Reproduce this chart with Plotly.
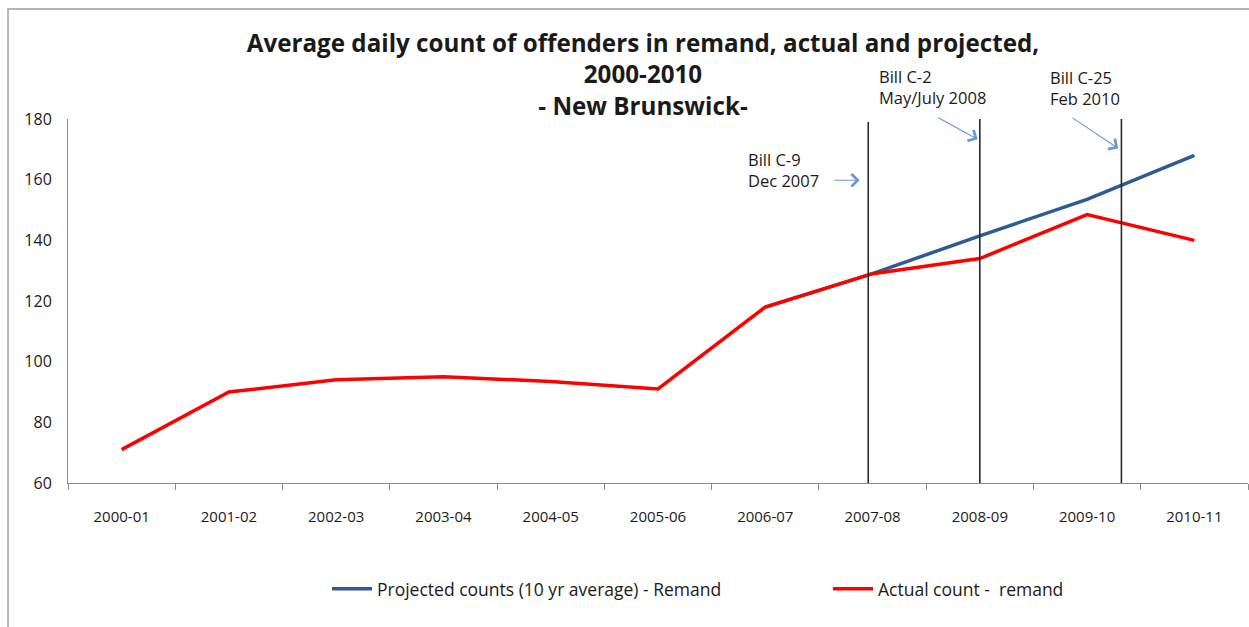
import plotly.graph_objects as go

categories = ["2000-01", "2001-02", "2002-03", "2003-04", "2004-05", "2005-06",
              "2006-07", "2007-08", "2008-09", "2009-10", "2010-11"]
actual = [71, 90, 94, 95, 93.5, 91, 118, 129, 134, 148.5, 140]
projected = [None, None, None, None, None, None, 118, 129, 141.5, 153.5, 168]
y_ticks = [60, 80, 100, 120, 140, 160, 180]

# bill markers: position on category axis (index units), top of line (y value)
bill_pos = [6.96, 8.0, 9.32]
bill_top = [179.0, 180.3, 180.3]
bill_text = ["Bill C-9<br>Dec 2007", "Bill C-2<br>May/July 2008", "Bill C-25<br>Feb 2010"]
bill_text_x = [5.82, 7.04, 8.635]
bill_text_y = [0.860, 1.089, 1.085]   # paper units
arrow_tail = [(6.63, 159.8), (7.60, 180.7), (8.85, 180.7)]
arrow_head = [(6.88, 159.8), (7.98, 173.3), (9.29, 170.3)]

FONT = "Open Sans"
TXT = "#1a1a1a"
AX = "#8c8c8c"

fig = go.Figure()
fig.add_trace(go.Scatter(x=categories, y=projected, mode="lines",
                         name="Projected counts (10 yr average) - Remand",
                         line=dict(color="#2E5C92", width=3.5), legend="legend"))
fig.add_trace(go.Scatter(x=categories, y=actual, mode="lines", name="Actual count -  remand",
                         line=dict(color="#FF0000", width=3.5), legend="legend2"))

for p, t in zip(bill_pos, bill_top):
    fig.add_shape(type="line", xref="x", yref="y", x0=p, x1=p, y0=60, y1=t,
                  line=dict(color="#2a2a2a", width=1.6))

annotations = []
for tx, ty, tt in zip(bill_text_x, bill_text_y, bill_text):
    annotations.append(dict(x=tx, y=ty, xref="x", yref="paper", text=tt, showarrow=False,
                            xanchor="left", yanchor="middle", align="left",
                            font=dict(family=FONT, size=16.5, color=TXT)))
for (x0, y0), (x1, y1) in zip(arrow_tail, arrow_head):
    annotations.append(dict(x=x1, y=y1, ax=x0, ay=y0, xref="x", yref="y", axref="x", ayref="y",
                            text="", showarrow=True, arrowhead=4, arrowsize=2.2, arrowwidth=1.1,
                            arrowcolor="#6B98D2", standoff=0, startstandoff=0))

# chart border (left/top)
fig.add_shape(type="path", xref="paper", yref="paper",
              path="M -0.0508 -0.5 L -0.0508 1.302 L 1.2 1.302",
              line=dict(color="#b5b5b5", width=2))

legend_common = dict(orientation="h", xanchor="left", y=-0.291, yanchor="middle",
                     font=dict(family=FONT, size=17.5, color=TXT), bgcolor="rgba(0,0,0,0)",
                     itemwidth=40)

fig.update_layout(
    width=1249, height=627,
    margin=dict(l=68, r=1, t=119, b=144),
    paper_bgcolor="white", plot_bgcolor="white",
    title=dict(text="<b>Average daily count of offenders in remand, actual and projected,<br>2000-2010<br>- New Brunswick-</b>",
               x=643 / 1249, xanchor="center", y=1 - 52 / 627, yanchor="middle",
               font=dict(family=FONT, size=24.2, color=TXT)),
    xaxis=dict(type="category", range=[-0.5, 10.5],
               showline=True, linecolor=AX, linewidth=1, ticks="outside", ticklen=6,
               tickcolor=AX, tickson="boundaries", showgrid=False, zeroline=False,
               ticklabelstandoff=20, tickfont=dict(family=FONT, size=15, color=TXT)),
    yaxis=dict(range=[60, 180], tickmode="array", tickvals=y_ticks,
               showline=True, linecolor=AX, linewidth=1, ticks="", showgrid=False, zeroline=False,
               ticklabelstandoff=12, tickfont=dict(family=FONT, size=16, color=TXT)),
    legend=dict(x=(327 - 68) / 1180, **legend_common),
    legend2=dict(x=(828 - 68) / 1180, **legend_common),
    annotations=annotations,
    showlegend=True,
)

fig.write_html("out.html", config={"displayModeBar": False},
               post_script="document.body.style.margin='0';")
